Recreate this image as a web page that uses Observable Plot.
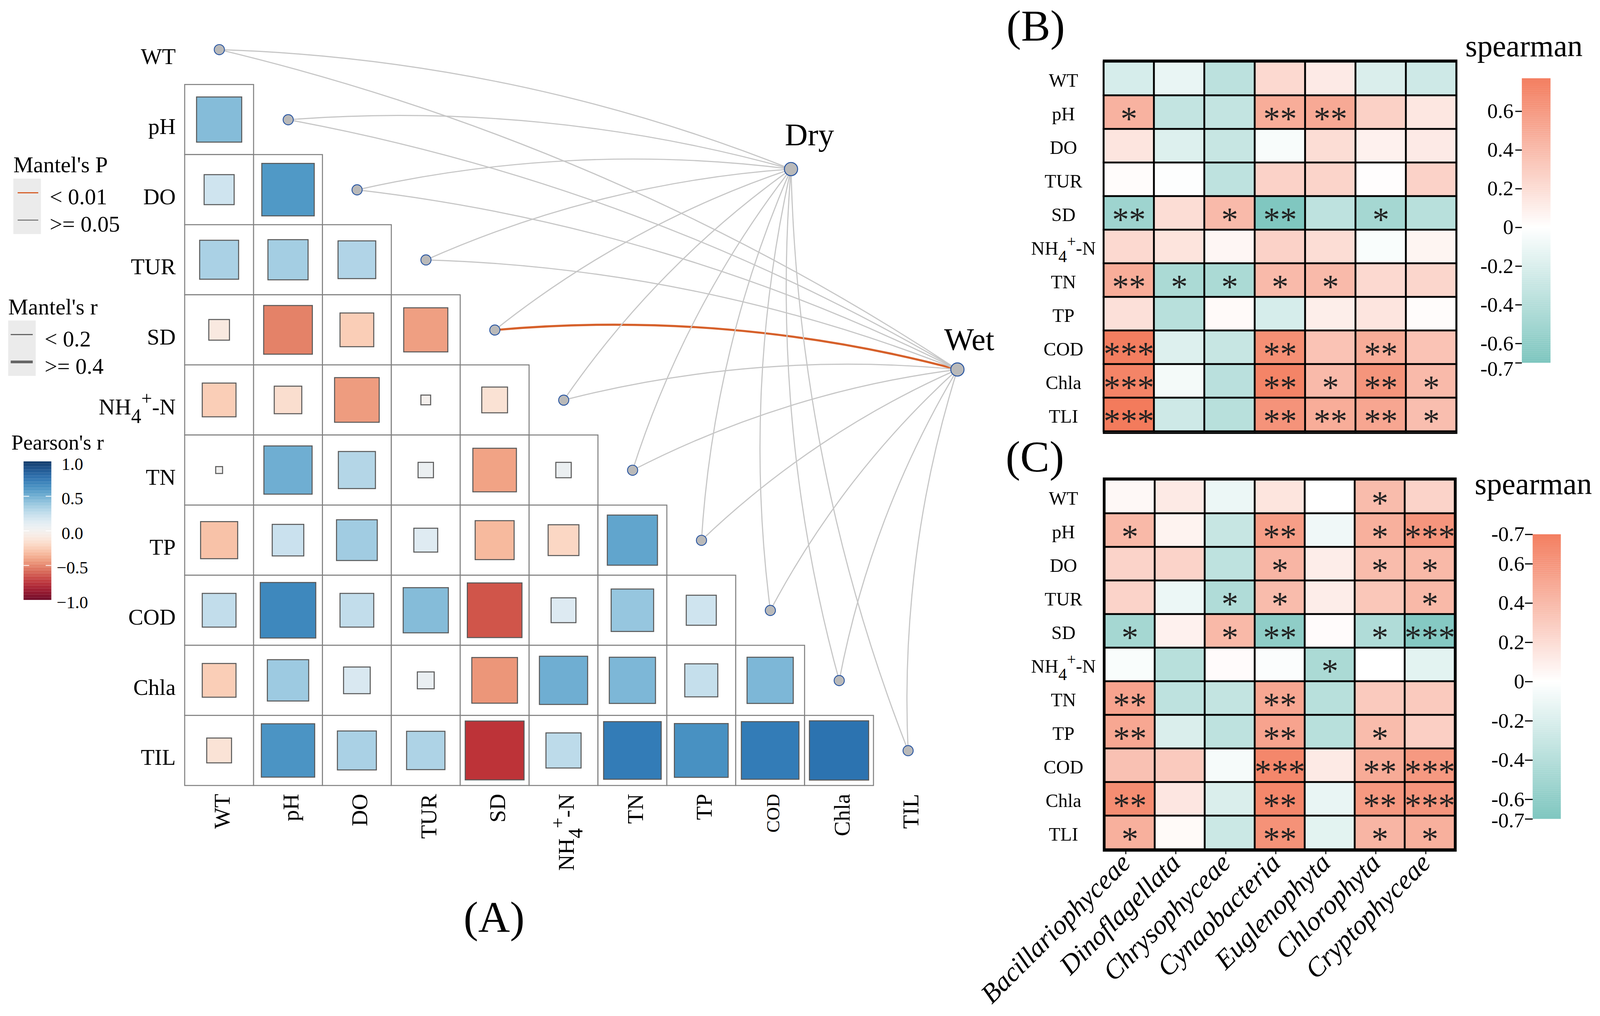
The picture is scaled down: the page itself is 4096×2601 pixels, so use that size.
<!DOCTYPE html>
<html><head><meta charset="utf-8">
<script src="https://cdn.jsdelivr.net/npm/d3@7"></script>
<script src="https://cdn.jsdelivr.net/npm/@observablehq/plot@0.6"></script>
<style>
html,body{margin:0;padding:0;background:#fff;}
#root{position:relative;width:4096px;height:2601px;overflow:hidden;background:#fff;}
#root > svg{position:absolute;left:0;top:0;}
</style></head><body><div id="root"></div>
<script>
// ---------------- DATA ----------------
const envVars = ["WT","pH","DO","TUR","SD","NH4+-N","TN","TP","COD","Chla","TIL"];
// Pearson's r, lower triangle (row i has columns 0..i-1)
const pearsonR = [
  [],
  [0.43],
  [0.19, 0.58],
  [0.32, 0.34, 0.30],
  [-0.09, -0.50, -0.24, -0.41],
  [-0.24, -0.16, -0.42, -0.02, -0.14],
  [0.01, 0.49, 0.29, 0.05, -0.40, 0.05],
  [-0.29, 0.21, 0.35, 0.12, -0.32, -0.20, 0.53],
  [0.24, 0.65, 0.24, 0.43, -0.63, 0.13, 0.38, 0.19],
  [-0.24, 0.36, 0.15, 0.06, -0.44, 0.49, 0.45, 0.23, 0.45],
  [-0.13, 0.60, 0.32, 0.31, -0.73, 0.26, 0.70, 0.61, 0.70, 0.74]
];
const seasons = ["Dry","Wet"];
const mantelPDry = [">= 0.05",">= 0.05",">= 0.05",">= 0.05",">= 0.05",">= 0.05",">= 0.05",">= 0.05",">= 0.05",">= 0.05",">= 0.05"];
const mantelPWet = [">= 0.05",">= 0.05",">= 0.05",">= 0.05","< 0.01",">= 0.05",">= 0.05",">= 0.05",">= 0.05",">= 0.05",">= 0.05"];
const mantelRDry = ["< 0.2","< 0.2","< 0.2","< 0.2","< 0.2","< 0.2","< 0.2","< 0.2","< 0.2","< 0.2","< 0.2"];
const mantelRWet = ["< 0.2","< 0.2","< 0.2","< 0.2",">= 0.4","< 0.2","< 0.2","< 0.2","< 0.2","< 0.2","< 0.2"];
const mantelPLevels = ["< 0.01", ">= 0.05"];
const mantelRLevels = ["< 0.2", ">= 0.4"];
const pearsonTicks = [-1, -0.5, 0, 0.5, 1];

const taxa = ["Bacillariophyceae","Dinoflagellata","Chrysophyceae","Cynaobacteria","Euglenophyta","Chlorophyta","Cryptophyceae"];
const bcVars = ["WT","pH","DO","TUR","SD","NH4+-N","TN","TP","COD","Chla","TLI"];
const spearB = [
  [-0.22, -0.12, -0.36, 0.22, 0.12, -0.20, -0.26],
  [0.45, -0.32, -0.32, 0.48, 0.50, 0.27, 0.14],
  [0.15, -0.18, -0.30, -0.04, 0.20, 0.08, 0.12],
  [0.02, -0.01, -0.35, 0.26, 0.25, 0.01, 0.26],
  [-0.52, 0.20, 0.40, -0.68, -0.35, -0.48, -0.38],
  [0.22, 0.16, 0.05, 0.26, 0.20, -0.03, 0.06],
  [0.48, -0.45, -0.45, 0.40, 0.40, 0.22, 0.24],
  [0.18, -0.38, 0.03, -0.22, 0.10, 0.15, 0.02],
  [0.75, -0.18, -0.30, 0.65, 0.35, 0.48, 0.35],
  [0.72, -0.06, -0.37, 0.72, 0.40, 0.62, 0.40],
  [0.77, -0.26, -0.38, 0.63, 0.48, 0.52, 0.38]
];
const sigB = [
  ["","","","","","",""],
  ["*","","","**","**","",""],
  ["","","","","","",""],
  ["","","","","","",""],
  ["**","","*","**","","*",""],
  ["","","","","","",""],
  ["**","*","*","*","*","",""],
  ["","","","","","",""],
  ["***","","","**","","**",""],
  ["***","","","**","*","**","*"],
  ["***","","","**","**","**","*"]
];
const spearC = [
  [0.04, 0.12, -0.10, 0.15, 0.00, 0.38, 0.25],
  [0.40, 0.07, -0.30, 0.55, -0.08, 0.45, 0.60],
  [0.25, 0.25, -0.35, 0.42, 0.10, 0.38, 0.40],
  [0.25, -0.10, -0.42, 0.38, 0.10, 0.32, 0.40],
  [-0.48, 0.08, 0.40, -0.60, 0.02, -0.42, -0.65],
  [-0.03, -0.38, 0.02, -0.02, -0.45, 0.00, -0.15],
  [0.52, -0.35, -0.32, 0.50, -0.38, 0.30, 0.30],
  [0.50, -0.20, -0.35, 0.52, -0.38, 0.38, 0.27],
  [0.35, 0.30, -0.05, 0.68, 0.12, 0.48, 0.58],
  [0.65, 0.14, -0.20, 0.68, -0.12, 0.58, 0.60],
  [0.45, 0.03, -0.28, 0.62, -0.15, 0.42, 0.45]
];
const sigC = [
  ["","","","","","*",""],
  ["*","","","**","","*","***"],
  ["","","","*","","*","*"],
  ["","","*","*","","","*"],
  ["*","","*","**","","*","***"],
  ["","","","","*","",""],
  ["**","","","**","","",""],
  ["**","","","**","","*",""],
  ["","","","***","","**","***"],
  ["**","","","**","","**","***"],
  ["*","","","**","","*","*"]
];
const spearTicksB = [-0.7, -0.6, -0.4, -0.2, 0, 0.2, 0.4, 0.6];
const spearLabelsB = ["-0.7","-0.6","-0.4","-0.2","0","0.2","0.4","0.6"];
const spearTicksC = [-0.7, -0.6, -0.4, -0.2, 0, 0.2, 0.4, 0.6, 0.75];
const spearLabelsC = ["-0.7","-0.6","-0.4","-0.2","0","0.2","0.4","0.6","-0.7"];

// ---------------- LAYOUT / STYLE ----------------
const K = 4096 / 1568;
const FONT = "'Liberation Serif','Times New Roman',serif";
const root = document.getElementById("root");
function base(f) {
  return {
    width: 4096, height: 2601,
    marginLeft: f[0] * K, marginRight: 4096 - f[1] * K,
    marginTop: f[2] * K, marginBottom: 2601 - f[3] * K,
    style: `background:none;overflow:visible;font-family:${FONT};color:black;`
  };
}
const nodeAt = {Dry: [8.30, 1.704], Wet: [10.716, 4.563]};
const pStroke = {"< 0.01": "#D6602A", ">= 0.05": "#C6C6C6"};
const rWidth = {"< 0.2": 2.9, ">= 0.4": 5.4};
const legendPColor = ["#D6602A", "#6E6E6E"];
const legendPWidth = {"< 0.01": 3.2, ">= 0.05": 2.4};
const legendRWidth = {"< 0.2": 3.0, ">= 0.4": 7.0};
const LEG = 22 * K;

// ---------------- PANEL A ----------------
const idx = envVars.map((_, i) => i);
const cells = pearsonR.flatMap((row, i) => row.map((r, j) => ({row: i, col: j, r})));
const links = seasons.flatMap(s => envVars.map((v, i) => ({
  season: s, i,
  p: (s === "Dry" ? mantelPDry : mantelPWet)[i],
  r: (s === "Dry" ? mantelRDry : mantelRWet)[i]
})));
const half = d => Math.sqrt(Math.abs(d.r)) / 2;
const yAsp = 67.5 / 68.7;
const linkMarks = [];
for (const p of Object.keys(pStroke)) for (const rc of Object.keys(rWidth)) {
  const sub = links.filter(d => d.p === p && d.r === rc);
  if (sub.length) linkMarks.push(Plot.arrow(sub, {
    x1: d => d.i, y1: d => d.i,
    x2: d => nodeAt[d.season][0], y2: d => nodeAt[d.season][1],
    bend: 10, headLength: 0, stroke: pStroke[p], strokeWidth: rWidth[rc]
  }));
}
root.appendChild(Plot.plot({
  ...base([181, 923.5, 14.1, 769.8]),
  x: {domain: [-0.5, 10.5], axis: null},
  y: {domain: [-0.5, 10.5], reverse: true, axis: null},
  color: {type: "linear", domain: [-1, 1], scheme: "RdBu"},
  marks: [
    Plot.rect(cells, {x1: d => d.col - 0.5, x2: d => d.col + 0.5, y1: d => d.row - 0.5, y2: d => d.row + 0.5,
      fill: "white", stroke: "#808080", strokeWidth: 2.6}),
    Plot.rect(cells, {x1: d => d.col - half(d), x2: d => d.col + half(d),
      y1: d => d.row - half(d) * yAsp, y2: d => d.row + half(d) * yAsp,
      fill: "r", stroke: "#595959", strokeWidth: 2.6}),
    ...linkMarks,
    Plot.dot(idx, {x: i => i, y: i => i, r: 5 * K, fill: "#B9B9B9", stroke: "#2452A0", strokeWidth: 2.2}),
    Plot.dot(seasons, {x: s => nodeAt[s][0], y: s => nodeAt[s][1], r: 6.5 * K, fill: "#B9B9B9", stroke: "#2452A0", strokeWidth: 2.4}),
    Plot.text(["Dry"], {x: s => nodeAt[s][0], y: s => nodeAt[s][1], text: s => s, textAnchor: "start",
      dx: -6 * K, dy: -33.4 * K, fontSize: 31 * K}),
    Plot.text(["Wet"], {x: s => nodeAt[s][0], y: s => nodeAt[s][1], text: s => s, textAnchor: "start",
      dx: -13 * K, dy: -29.1 * K, fontSize: 31 * K}),
    Plot.text(idx, {y: i => i, text: i => envVars[i], frameAnchor: "left", textAnchor: "end", lineAnchor: "middle",
      dx: -9 * K, dy: 7 * K, fontSize: 22 * K}),
    Plot.text(idx, {x: i => i, text: i => envVars[i], frameAnchor: "bottom", rotate: -90, textAnchor: "end", lineAnchor: "middle",
      dx: 3 * K, dy: 8 * K, fontSize: i => envVars[i] === "COD" ? 18 * K : 22 * K}),
    Plot.text(["(A)"], {frameAnchor: "top-left", text: d => d, textAnchor: "middle", lineAnchor: "middle",
      dx: 303 * K, dy: 885.2 * K, fontSize: 43 * K})
  ]
}));

// ---------------- LEGENDS (A) ----------------
root.appendChild(Plot.plot({
  ...base([12.9, 39.9, 174.9, 229.2]),
  y: {type: "point", domain: mantelPLevels, axis: null},
  color: {domain: mantelPLevels, range: legendPColor},
  marks: [
    Plot.frame({fill: "#EBEBEB", stroke: "none"}),
    Plot.ruleY(mantelPLevels, {y: d => d, stroke: d => d, strokeWidth: d => legendPWidth[d], insetLeft: 4.4 * K, insetRight: 2.4 * K}),
    Plot.text(mantelPLevels, {y: d => d, text: d => d, frameAnchor: "right", textAnchor: "start", lineAnchor: "middle",
      dx: 8.6 * K, dy: 4.2 * K, fontSize: LEG}),
    Plot.text(["Mantel's P"], {frameAnchor: "top-left", text: d => d, textAnchor: "start", lineAnchor: "middle",
      dy: -13.2 * K, fontSize: LEG})
  ]
}));
root.appendChild(Plot.plot({
  ...base([7.8, 34.8, 313.9, 368.2]),
  y: {type: "point", domain: mantelRLevels, axis: null},
  marks: [
    Plot.frame({fill: "#EBEBEB", stroke: "none"}),
    Plot.ruleY(mantelRLevels, {y: d => d, stroke: "#666666", strokeWidth: d => legendRWidth[d], insetLeft: 2.7 * K, insetRight: 2.7 * K}),
    Plot.text(mantelRLevels, {y: d => d, text: d => d, frameAnchor: "right", textAnchor: "start", lineAnchor: "middle",
      dx: 8.7 * K, dy: 4.6 * K, fontSize: LEG}),
    Plot.text(["Mantel's r"], {frameAnchor: "top-left", text: d => d, textAnchor: "start", lineAnchor: "middle",
      dy: -13.1 * K, fontSize: LEG})
  ]
}));
const rampA = d3.range(-1, 1, 0.01);
root.appendChild(Plot.plot({
  ...base([23.1, 50.3, 452.2, 587.9]),
  y: {domain: [-1, 1], axis: null},
  color: {type: "linear", domain: [-1, 1], scheme: "RdBu"},
  marks: [
    Plot.rect(rampA, {y1: d => d, y2: d => Math.min(1, d + 0.0105), fill: d => d + 0.005}),
    Plot.ruleY(pearsonTicks.slice(1, -1), {y: d => d, stroke: "white", strokeWidth: 2, insetRight: 21.7 * K}),
    Plot.ruleY(pearsonTicks.slice(1, -1), {y: d => d, stroke: "white", strokeWidth: 2, insetLeft: 21.7 * K}),
    Plot.text(pearsonTicks, {y: d => d, text: d3.format(".1f"), frameAnchor: "right", textAnchor: "middle", lineAnchor: "middle",
      dx: 20.4 * K, dy: 2.5 * K, fontSize: 17 * K}),
    Plot.text(["Pearson's r"], {frameAnchor: "top-left", text: d => d, textAnchor: "start", lineAnchor: "middle",
      dx: -12.2 * K, dy: -18.5 * K, fontSize: 21 * K})
  ]
}));

// ---------------- PANELS B & C ----------------
function heat(vals, sigs, frame, dom, letter, letterPos, withAxis) {
  const data = bcVars.flatMap((v, i) => taxa.map((t, j) => ({v, t, val: vals[i][j], sig: sigs[i][j]})));
  const marks = [];
  for (const t of taxa) {
    marks.push(Plot.cell(data.filter(d => d.t === t), {x: "t", y: "v", fill: "val"}));
    marks.push(Plot.text(data.filter(d => d.t === t && d.sig), {x: "t", y: "v", text: "sig",
      fontSize: 33 * K, dy: 7 * K, fill: "#222222", clip: true}));
  }
  marks.push(Plot.cell(data, {x: "t", y: "v", fill: "none", stroke: "black", strokeWidth: 4.4}));
  marks.push(Plot.frame({stroke: "black", strokeWidth: 4.4}));
  marks.push(Plot.text(bcVars, {y: d => d, text: d => d, frameAnchor: "left", textAnchor: "middle", lineAnchor: "middle",
    dx: -39.4 * K, dy: 2 * K, fontSize: 18.5 * K}));
  marks.push(Plot.text([letter], {frameAnchor: "top-left", text: d => d, textAnchor: "middle", lineAnchor: "middle",
    dx: letterPos[0] * K, dy: letterPos[1] * K, fontSize: 43 * K}));
  if (withAxis) marks.push(Plot.axisX({anchor: "bottom", tickSize: 3.5 * K, tickPadding: 4 * K, tickRotate: -45,
    dx: -4 * K, fontSize: 26.5 * K, fontStyle: "italic", strokeWidth: 2.6, label: null}));
  return Plot.plot({
    ...base(frame),
    x: {domain: taxa, padding: 0, axis: null},
    y: {domain: bcVars, padding: 0, axis: null},
    color: {type: "linear", domain: dom, range: ["#7CC5BE", "#FFFFFF", "#F37B5C"], interpolate: "rgb"},
    marks
  });
}
root.appendChild(heat(spearB, sigB, [1081.4, 1427.2, 59, 424.2], [-0.7, 0, 0.77], "(B)", [-66.6, -33.3], false));
root.appendChild(heat(spearC, sigC, [1081.4, 1426.5, 468.6, 833.6], [-0.7, 0, 0.75], "(C)", [-67.4, -20.4], true));

// ---------------- COLORBARS B & C ----------------
function spearBar(frame, dom, ticks, labels, tickSize, pad, bottomShift, titlePos) {
  const step = 0.005;
  const ramp = d3.range(dom[0], dom[2], step);
  const barW = frame[1] - frame[0];
  const items = ticks.map((v, i) => ({v, label: labels[i], bottom: i === 0}));
  return Plot.plot({
    ...base(frame),
    y: {domain: [dom[0], dom[2]], axis: null},
    color: {type: "linear", domain: dom, range: ["#7CC5BE", "#FFFFFF", "#F37B5C"], interpolate: "rgb"},
    marks: [
      Plot.rect(ramp, {y1: d => d, y2: d => Math.min(dom[2], d + step * 1.1), fill: d => d + step / 2}),
      Plot.tickY(ticks, {y: d => d, stroke: "black", strokeWidth: 3, insetLeft: -tickSize * K, insetRight: barW * K}),
      Plot.text(items.filter(d => !d.bottom), {y: "v", text: "label", frameAnchor: "left", textAnchor: "end", lineAnchor: "middle",
        dx: -(tickSize + pad) * K, fontSize: 20.5 * K}),
      Plot.text(items.filter(d => d.bottom), {y: "v", text: "label", frameAnchor: "left", textAnchor: "end", lineAnchor: "middle",
        dx: -(tickSize + pad) * K, dy: bottomShift * K, fontSize: 20.5 * K}),
      Plot.text(["spearman"], {frameAnchor: "top-left", text: d => d, textAnchor: "start", lineAnchor: "middle",
        dx: titlePos[0] * K, dy: titlePos[1] * K, fontSize: 30 * K})
    ]
  });
}
root.appendChild(spearBar([1491.4, 1519.5, 76.7, 355.5], [-0.7, 0, 0.77], spearTicksB, spearLabelsB, 6.4, 2, 6, [-55.6, -31.2]));
root.appendChild(spearBar([1502, 1529.6, 523.6, 802.5], [-0.7, 0, 0.75], spearTicksC, spearLabelsC, 7.5, 0.8, 1.5, [-57, -49.2]));

// ---------------- NH4+-N sub/superscripts ----------------
for (const t of root.querySelectorAll("text")) {
  if (t.textContent === "NH4+-N") {
    const F = parseFloat(getComputedStyle(t).fontSize);
    t.textContent = "";
    const add = (s, dy, scale) => {
      const ts = document.createElementNS("http://www.w3.org/2000/svg", "tspan");
      ts.textContent = s;
      if (dy) ts.setAttribute("dy", dy);
      if (scale) ts.setAttribute("font-size", scale * F);
      t.appendChild(ts);
    };
    add("NH", 0, 0);
    add("4", 0.38 * F, 0.9);
    add("+", -0.82 * F, 0.85);
    add("-N", 0.44 * F, 1);
  }
}
</script></body></html>
